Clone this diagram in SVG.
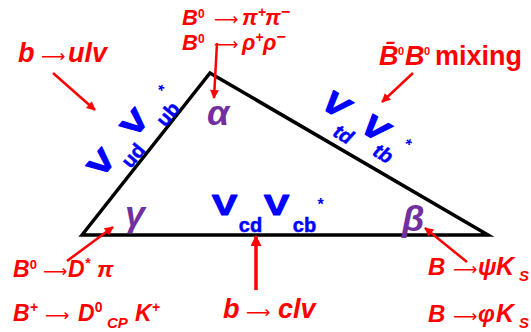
<svg xmlns="http://www.w3.org/2000/svg" width="531" height="332" viewBox="0 0 531 332">
<defs>
<style>
.r{fill:#f00;font-family:'Liberation Sans',Arial,sans-serif;font-weight:bold;font-style:italic}
.ar{font-family:'DejaVu Sans',sans-serif;font-weight:normal;font-style:normal;font-size:17px}
.up{font-style:normal}
.b{fill:#00f;font-family:'Liberation Sans',Arial,sans-serif;font-weight:bold}
.v{font-size:27px;stroke:#00f;stroke-width:1.1;stroke-linejoin:round}
.s{font-size:20px;stroke:#00f;stroke-width:0.5}
.g{fill:#7030A0;font-family:'Liberation Sans',Arial,sans-serif;font-weight:bold;font-style:italic;font-size:36px}
.con{stroke:#f00;stroke-width:2.5;fill:none;marker-end:url(#ah)}
</style>
<marker id="ah" viewBox="0 0 10 10" refX="9" refY="5" markerWidth="11" markerHeight="9" markerUnits="userSpaceOnUse" orient="auto"><path d="M0,0 L10,5 L0,10 z" fill="#f00"/></marker>
<marker id="ah2" viewBox="0 0 10 10" refX="9" refY="5" markerWidth="11" markerHeight="11" markerUnits="userSpaceOnUse" orient="auto"><path d="M0,0 L10,5 L0,10 z" fill="#f00"/></marker>
</defs>
<rect width="531" height="332" fill="#fff"/>

<g id="triangle">
<polygon points="82,235 210,73 488,235" fill="none" stroke="#000" stroke-width="3.5" stroke-linejoin="miter"/>
</g>

<g id="connectors">
<path class="con" d="M53,73 L95,110"/>
<path class="con" d="M217,43 L214,98"/>
<path class="con" d="M413,73 L382,102"/>
<path class="con" d="M67,261 L113,227"/>
<path class="con" d="M467,262 L425,228"/>
<path class="con" d="M256,290 L256,236" style="stroke-width:3.5;marker-end:url(#ah2)"/>
</g>

<g id="angle-alpha"><text class="g" x="207" y="125">α</text></g>
<g id="angle-gamma"><text class="g" x="125" y="226">γ</text></g>
<g id="angle-beta"><text class="g" x="402" y="231">β</text></g>

<g id="side-left" transform="translate(101,162.5) rotate(-50)">
<text class="b v" text-anchor="middle" transform="translate(0,10.5) scale(1.4,1.1)">V</text>
<text class="b s" x="26" y="27" text-anchor="middle">ud</text>
<text class="b v" text-anchor="middle" transform="translate(52,10.5) scale(1.4,1.1)">V</text>
<text class="b s" x="80" y="27" text-anchor="middle">ub</text>
<text class="b" x="96" y="6" font-size="16" text-anchor="middle">*</text>
</g>

<g id="side-bottom" transform="translate(224.5,204)">
<text class="b v" text-anchor="middle" transform="translate(0,10.5) scale(1.4,1.1)">V</text>
<text class="b s" x="26" y="28" text-anchor="middle">cd</text>
<text class="b v" text-anchor="middle" transform="translate(52,10.5) scale(1.4,1.1)">V</text>
<text class="b s" x="80" y="28" text-anchor="middle">cb</text>
<text class="b" x="96" y="6" font-size="16" text-anchor="middle">*</text>
</g>

<g id="side-right" transform="translate(336,104) rotate(31)">
<text class="b v" font-style="italic" text-anchor="middle" transform="translate(0,11) scale(1.35,1.15)">V</text>
<text class="b s" x="22" y="29" font-style="italic" text-anchor="middle">td</text>
<text class="b v" font-style="italic" text-anchor="middle" transform="translate(46,11) scale(1.35,1.15)">V</text>
<text class="b s" x="66" y="25" font-style="italic" text-anchor="middle">tb</text>
<text class="b" x="82" y="3" font-size="16" text-anchor="middle">*</text>
</g>

<g id="label-pipi">
<text class="r" font-size="22" y="25"><tspan x="182">B</tspan><tspan class="up" font-size="12" dy="-7">0</tspan><tspan class="ar" x="214" dy="7">⟶</tspan><tspan x="242">π</tspan><tspan font-size="14" dy="-8">+</tspan><tspan x="265" dy="8">π</tspan><tspan font-size="16" dy="-8">−</tspan></text>
</g>
<g id="label-rhorho">
<text class="r" font-size="22" y="50"><tspan x="182">B</tspan><tspan class="up" font-size="12" dy="-7">0</tspan><tspan class="ar" x="214" dy="7">⟶</tspan><tspan x="242">ρ</tspan><tspan font-size="14" dy="-8">+</tspan><tspan x="263" dy="8">ρ</tspan><tspan font-size="16" dy="-8">−</tspan></text>
</g>
<g id="label-ulv">
<text class="r" font-size="27" y="62"><tspan x="18">b</tspan><tspan class="ar" x="41">⟶</tspan><tspan x="68">ulv</tspan></text>
</g>
<g id="label-mixing">
<text class="r" font-size="27" y="65"><tspan x="379">B̄</tspan><tspan class="up" font-size="11" x="398" dy="-10">0</tspan><tspan x="405" dy="10">B</tspan><tspan class="up" font-size="11" x="424" dy="-10">0</tspan><tspan class="up" x="435" dy="10">mixing</tspan></text>
</g>
<g id="label-dstarpi">
<text class="r" font-size="23" y="277"><tspan x="13">B</tspan><tspan class="up" font-size="13" dy="-8">0</tspan><tspan class="ar" x="43" dy="8">⟶</tspan><tspan x="68">D</tspan><tspan font-size="14" dy="-9">*</tspan><tspan x="97" dy="9">π</tspan></text>
</g>
<g id="label-dk">
<text class="r" font-size="23" y="321"><tspan x="13">B</tspan><tspan font-size="14" dy="-9">+</tspan><tspan class="ar" x="45" dy="9">⟶</tspan><tspan x="78">D</tspan><tspan class="up" font-size="14" dy="-9">0</tspan><tspan font-size="15" x="107" dy="16">CP</tspan><tspan x="135" dy="-7">K</tspan><tspan font-size="14" dy="-9">+</tspan></text>
</g>
<g id="label-clv">
<text class="r" font-size="27" y="318"><tspan x="223">b</tspan><tspan class="ar" x="246">⟶</tspan><tspan x="278">clv</tspan></text>
</g>
<g id="label-psiks">
<text class="r" font-size="24" y="275"><tspan x="428">B</tspan><tspan class="ar" x="453">⟶</tspan><tspan x="478">ψ</tspan><tspan x="496" font-size="25">K</tspan><tspan x="519" font-size="15" dy="6">S</tspan></text>
</g>
<g id="label-phiks">
<text class="r" font-size="24" y="322"><tspan x="428">B</tspan><tspan class="ar" x="453">⟶</tspan><tspan x="478">φ</tspan><tspan x="496" font-size="25">K</tspan><tspan x="519" font-size="15" dy="6">S</tspan></text>
</g>
</svg>
